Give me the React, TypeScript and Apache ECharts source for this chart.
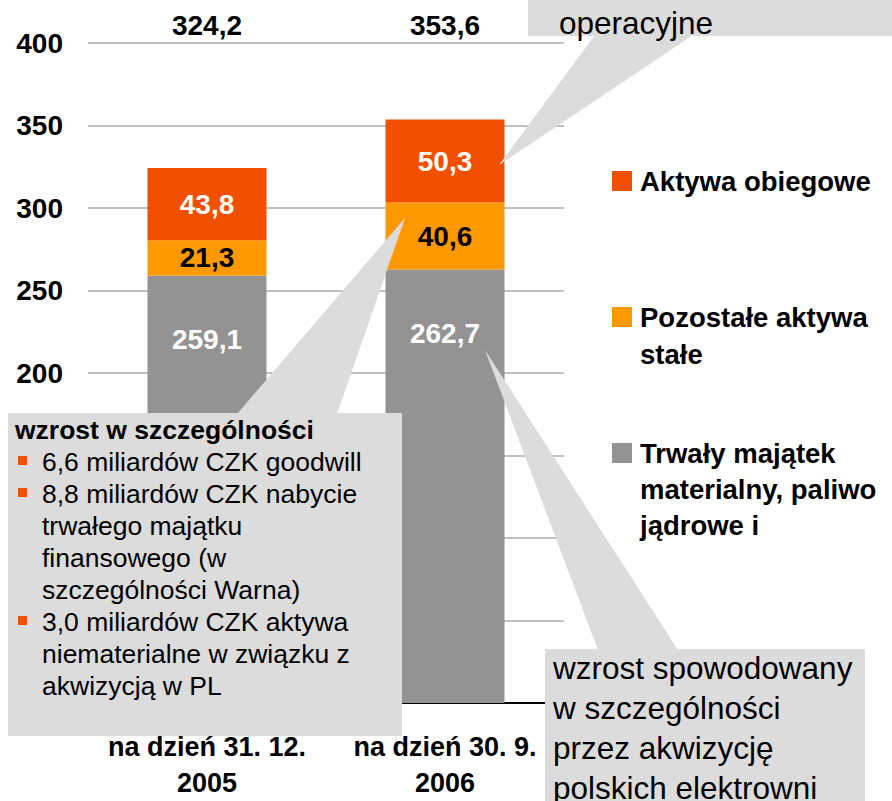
import React, { useEffect, useRef } from 'react';
import * as echarts from 'echarts';

const categories = ['na dzień 31. 12.\n2005', 'na dzień 30. 9.\n2006'];
const seriesNames = [
  'Trwały majątek materialny, paliwo jądrowe i',
  'Pozostałe aktywa stałe',
  'Aktywa obiegowe',
];
const legendLines = [
  ['Trwały majątek', 'materialny, paliwo', 'jądrowe i'],
  ['Pozostałe aktywa', 'stałe'],
  ['Aktywa obiegowe'],
];
const fixedAssets = [259.1, 262.7];
const otherFixedAssets = [21.3, 40.6];
const currentAssets = [43.8, 50.3];
const totals = [324.2, 353.6];
const Y_MIN = 0;
const Y_MAX = 400;
const Y_STEP = 50;
// tick labels below this value are covered by the note box in the original
const Y_LABEL_VISIBLE_FROM = 200;

const leftNoteTitle = 'wzrost w szczególności';
const leftNoteLines = [
  '6,6 miliardów CZK goodwill',
  '8,8 miliardów CZK nabycie',
  'trwałego majątku',
  'finansowego (w',
  'szczególności Warna)',
  '3,0 miliardów CZK aktywa',
  'niematerialne w związku z',
  'akwizycją w PL',
];
const bulletLineIdx = [0, 1, 5];
const bottomNoteLines = ['wzrost spowodowany', 'w szczególności', 'przez akwizycję', 'polskich elektrowni'];
const topNoteText = 'operacyjne';

const FONT = 'Liberation Sans, Arial, sans-serif';
const C_RED = '#F05000';
const C_ORANGE = '#FF9900';
const C_GRAY = '#939393';
const C_NOTE = '#DCDCDC';

const fmt = (v: number) => v.toFixed(1).replace('.', ',');

export default function App() {
  const ref = useRef<HTMLDivElement>(null);
  useEffect(() => {
    if (!ref.current) return;
    const chart = echarts.init(ref.current, undefined, { renderer: 'svg' });
    // multi-line legend text: prepend empty lines so the first line sits level with the icon
    const legendBase = (name: string, lines: string[], iconTop: number, lh: number) => {
      const n = lines.length;
      const label = new Array(n - 1).fill('').concat(lines).join('\n');
      const half = ((2 * n - 1) * lh) / 2;
      const top = iconTop - Math.max(0, half - 10);
      return {
        data: [{ name }],
        left: 612,
        top,
        orient: 'vertical',
        padding: 0,
        icon: 'rect',
        itemWidth: 20,
        itemHeight: 20,
        formatter: () => label,
        textStyle: {
          fontFamily: FONT,
          fontSize: 27.5,
          fontWeight: 'bold',
          color: '#000',
          lineHeight: lh,
          padding: [0, 0, 0, 3],
        },
      };
    };
    const noteZ = { z: 100, zlevel: 0 };
    const graphic: any[] = [
      // top-right note
      { type: 'rect', ...noteZ, shape: { x: 528, y: -40, width: 380, height: 76 }, style: { fill: C_NOTE } },
      { type: 'polygon', ...noteZ, shape: { points: [[595, 35], [693, 35], [499, 165]] }, style: { fill: C_NOTE } },
      { type: 'text', ...noteZ, x: 559, y: 23, style: { text: topNoteText, fontFamily: FONT, fontSize: 31.5, fill: '#000', verticalAlign: 'middle' } },
      // left note
      { type: 'polygon', ...noteZ, shape: { points: [[237, 414], [337, 414], [405, 218]] }, style: { fill: C_NOTE } },
      { type: 'rect', ...noteZ, shape: { x: 8, y: 413, width: 394, height: 323 }, style: { fill: C_NOTE } },
      { type: 'text', ...noteZ, x: 15, y: 414, style: { text: leftNoteTitle, fontFamily: FONT, fontSize: 26.5, fontWeight: 'bold', fill: '#000', lineHeight: 32, verticalAlign: 'top' } },
      { type: 'text', ...noteZ, x: 42, y: 446, style: { text: leftNoteLines.join('\n'), fontFamily: FONT, fontSize: 26.5, fill: '#000', lineHeight: 32, verticalAlign: 'top' } },
      ...bulletLineIdx.map((i) => ({ type: 'rect', ...noteZ, z: 101, shape: { x: 18, y: 456 + i * 32, width: 9, height: 9 }, style: { fill: C_RED } })),
      // bottom-right note
      { type: 'polygon', ...noteZ, shape: { points: [[485, 350], [598, 650], [678, 650]] }, style: { fill: C_NOTE } },
      { type: 'rect', ...noteZ, shape: { x: 545, y: 649, width: 320, height: 170 }, style: { fill: C_NOTE } },
      { type: 'text', ...noteZ, x: 553, y: 648, style: { text: bottomNoteLines.join('\n'), fontFamily: FONT, fontSize: 31.5, fill: '#000', lineHeight: 40, verticalAlign: 'top' } },
    ];
    chart.setOption({
      animation: false,
      backgroundColor: '#fff',
      textStyle: { fontFamily: FONT },
      grid: { left: 88, right: 328, top: 43, bottom: 96, containLabel: false },
      legend: [
        legendBase(seriesNames[2], legendLines[2], 171, 37),
        legendBase(seriesNames[1], legendLines[1], 307, 37),
        legendBase(seriesNames[0], legendLines[0], 443, 36),
      ],
      xAxis: {
        type: 'category',
        data: categories,
        axisLine: { show: true, lineStyle: { color: '#000', width: 2 } },
        axisTick: { show: false },
        axisLabel: { interval: 0, fontFamily: FONT, fontSize: 27, fontWeight: 'bold', color: '#000', lineHeight: 36, margin: 26 },
      },
      yAxis: {
        type: 'value',
        min: Y_MIN,
        max: Y_MAX,
        interval: Y_STEP,
        axisLine: { show: false },
        axisTick: { show: false },
        splitLine: { lineStyle: { color: '#C0C0C0', width: 2 } },
        axisLabel: {
          fontFamily: FONT, fontSize: 28, fontWeight: 'bold', color: '#000', margin: 25,
          formatter: (v: number) => (v >= Y_LABEL_VISIBLE_FROM ? String(v) : ''),
        },
      },
      series: [
        {
          name: seriesNames[0], type: 'bar', stack: 'a', data: fixedAssets, barWidth: 119,
          itemStyle: { color: C_GRAY },
          label: { show: true, position: 'insideTop', distance: 50, color: '#fff', fontFamily: FONT, fontSize: 28, fontWeight: 'bold', formatter: (p: any) => fmt(p.value) },
        },
        {
          name: seriesNames[1], type: 'bar', stack: 'a', data: otherFixedAssets, barWidth: 119,
          itemStyle: { color: C_ORANGE },
          label: { show: true, position: 'inside', color: '#000', fontFamily: FONT, fontSize: 28, fontWeight: 'bold', formatter: (p: any) => fmt(p.value) },
        },
        {
          name: seriesNames[2], type: 'bar', stack: 'a', data: currentAssets, barWidth: 119,
          itemStyle: { color: C_RED },
          label: { show: true, position: 'inside', color: '#fff', fontFamily: FONT, fontSize: 28, fontWeight: 'bold', formatter: (p: any) => fmt(p.value) },
        },
        {
          name: 'Suma', type: 'scatter', data: totals.map(() => Y_MAX), symbolSize: 0, silent: true,
          itemStyle: { opacity: 1 },
          label: { show: true, position: 'top', distance: 4, opacity: 1, color: '#000', fontFamily: FONT, fontSize: 28, fontWeight: 'bold', formatter: (p: any) => fmt(totals[p.dataIndex]) },
        },
      ],
      graphic,
    });
    return () => chart.dispose();
  }, []);
  return <div ref={ref} style={{ position: 'fixed', left: 0, top: 0, width: 892, height: 801 }} />;
}
